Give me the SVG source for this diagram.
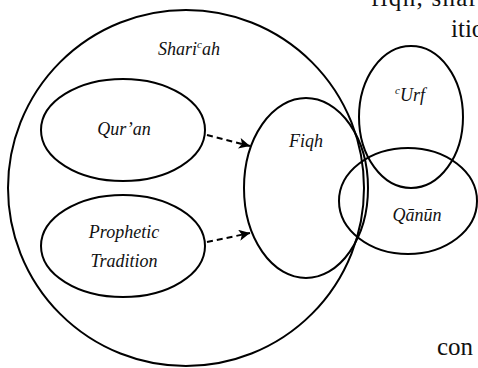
<svg xmlns="http://www.w3.org/2000/svg" width="478" height="368" viewBox="0 0 478 368">
<style>
.shape{fill:none;stroke:#000;stroke-width:2}
.lbl{font-family:"Liberation Serif","Times New Roman",serif;font-style:italic;font-size:18px;fill:#111;text-anchor:middle}
.page{font-family:"Liberation Serif","Times New Roman",serif;font-size:25px;fill:#111}
.conn{stroke:#000;stroke-width:2;stroke-dasharray:6,4;fill:none}
</style>
<defs>
<marker id="ah" viewBox="0 0 10 10" refX="10" refY="5" markerWidth="7" markerHeight="5.5" markerUnits="strokeWidth" orient="auto">
<path d="M0,0 L10,5 L0,10 L2.5,5 Z" fill="#000"/>
</marker>
</defs>
<rect width="478" height="368" fill="#fff"/>
<g id="page-text">
<text class="page" x="371" y="6" textLength="106" lengthAdjust="spacing">fiqh, shar</text>
<text class="page" x="451" y="37">itio</text>
<text class="page" x="437" y="355">con</text>
</g>
<g id="shariah">
<ellipse class="shape" cx="186" cy="188" rx="178" ry="178"/>
<text class="lbl" x="189" y="55">Shari<tspan font-size="11" dy="-7">c</tspan><tspan dy="7">ah</tspan></text>
</g>
<g id="quran">
<ellipse class="shape" cx="123" cy="130" rx="82" ry="51"/>
<text class="lbl" x="124" y="135">Qur’an</text>
</g>
<g id="prophetic-tradition">
<ellipse class="shape" cx="123" cy="246" rx="82" ry="51"/>
<text class="lbl" x="124" y="238">Prophetic</text>
<text class="lbl" x="124" y="267">Tradition</text>
</g>
<g id="fiqh">
<ellipse class="shape" cx="306" cy="188" rx="62" ry="90"/>
<text class="lbl" x="306" y="147">Fiqh</text>
</g>
<g id="urf">
<ellipse class="shape" cx="411" cy="117" rx="52" ry="71"/>
<text class="lbl" x="410" y="101"><tspan font-size="11" dy="-7">c</tspan><tspan dy="7">Urf</tspan></text>
</g>
<g id="qanun">
<ellipse class="shape" cx="408" cy="201" rx="69" ry="53"/>
<text class="lbl" x="417" y="221">Qānūn</text>
</g>
<g id="connectors">
<line class="conn" x1="207" y1="135" x2="250" y2="146" marker-end="url(#ah)"/>
<line class="conn" x1="207" y1="242" x2="250" y2="233" marker-end="url(#ah)"/>
</g>
</svg>
